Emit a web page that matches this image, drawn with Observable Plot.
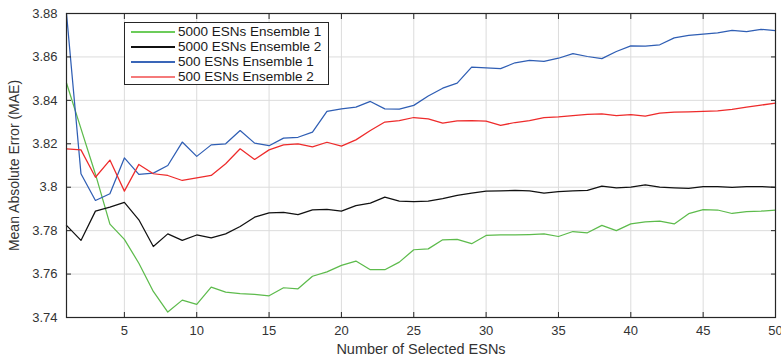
<!DOCTYPE html>
<html>
<head>
<meta charset="utf-8">
<script src="https://cdn.jsdelivr.net/npm/d3@7"></script>
<script src="https://cdn.jsdelivr.net/npm/@observablehq/plot@0.6"></script>
<style>
  html, body { margin: 0; padding: 0; background: #fff; }
  #wrap { position: relative; width: 781px; height: 358px; font-family: "Liberation Sans", Arial, sans-serif; }
  #legend { position: absolute; left: 124px; top: 22px; width: 205px; height: 63px; box-sizing: border-box;
            border: 1px solid #262626; background: #fff; }
  .row { position: absolute; left: 0; height: 15px; width: 100%; }
  .row .sw { position: absolute; left: 6px; width: 44px; top: 7px; height: 1.6px; }
  .row .lb { position: absolute; left: 53px; top: -1px; font-size: 13.5px; line-height: 17px; color: #1a1a1a; white-space: nowrap; }
</style>
</head>
<body>
<div id="wrap"></div>
<script>
const n = d3.range(1, 51);
const xTicks = [5, 10, 15, 20, 25, 30, 35, 40, 45, 50];
const yTicks = [3.74, 3.76, 3.78, 3.80, 3.82, 3.84, 3.86, 3.88];

const seriesNames = ["5000 ESNs Ensemble 1", "5000 ESNs Ensemble 2", "500 ESNs Ensemble 1", "500 ESNs Ensemble 2"];

const green = [3.848,3.827,3.806,3.783,3.776,3.765,3.752,3.7425,3.748,3.746,
  3.754,3.7517,3.751,3.7506,3.750,3.7537,3.7532,3.759,3.761,3.764,
  3.766,3.762,3.762,3.7655,3.7712,3.7716,3.7758,3.776,3.774,3.7778,
  3.778,3.778,3.7782,3.7785,3.7773,3.7796,3.779,3.7824,3.780,3.7831,
  3.784,3.7844,3.7831,3.7878,3.7897,3.7895,3.7879,3.7888,3.789,3.7894];
const black = [3.7824,3.7755,3.789,3.7908,3.793,3.785,3.7727,3.7785,3.7755,3.778,
  3.7767,3.7785,3.7819,3.7862,3.7882,3.7884,3.7874,3.7896,3.7898,3.789,
  3.7915,3.7927,3.7954,3.7936,3.7934,3.7936,3.7947,3.7962,3.7973,3.7982,
  3.7983,3.7985,3.7983,3.7973,3.798,3.7983,3.7985,3.8005,3.7997,3.800,
  3.8011,3.800,3.7997,3.7995,3.8003,3.8003,3.7999,3.8003,3.8003,3.7999];
const blue = [3.880,3.8062,3.7939,3.797,3.8135,3.8059,3.8065,3.810,3.8208,3.8142,
  3.8195,3.820,3.8261,3.8203,3.8191,3.8226,3.823,3.8254,3.8349,3.8361,
  3.8369,3.8395,3.8361,3.836,3.8377,3.842,3.8456,3.8479,3.8553,3.855,
  3.8546,3.8573,3.8584,3.858,3.8594,3.8615,3.8602,3.8592,3.8625,3.8651,
  3.865,3.8656,3.8688,3.8699,3.8705,3.8711,3.8722,3.8717,3.8727,3.8721];
const red = [3.8177,3.8172,3.8046,3.8125,3.7982,3.8105,3.8062,3.8054,3.8031,3.8043,
  3.8054,3.8108,3.8177,3.8128,3.8172,3.8195,3.820,3.8186,3.8207,3.8189,
  3.8218,3.8261,3.830,3.8307,3.8321,3.8315,3.8295,3.8306,3.8307,3.8304,
  3.8285,3.8298,3.8307,3.832,3.8324,3.833,3.8335,3.8338,3.833,3.8334,
  3.8327,3.8341,3.8346,3.8347,3.8349,3.8352,3.8358,3.8369,3.8378,3.8387];

const lineColors = ["#5dbb4c", "#111111", "#2f5eb4", "#ee2b2b"];
const legendColors = ["#6ccc5a", "#111111", "#3a66b8", "#f57a7a"];
const allSeries = [green, black, blue, red];

const fmtY = d => d3.format(".2f")(d).replace(/0$/, "");

const lineMarks = allSeries.map((s, k) =>
  Plot.line(n.map((x, i) => ({x, y: s[i]})), {x: "x", y: "y", stroke: lineColors[k], strokeWidth: 1.25})
);

const chart = Plot.plot({
  width: 781,
  height: 358,
  marginLeft: 66,
  marginRight: 6,
  marginTop: 13,
  marginBottom: 41,
  style: {fontFamily: "'Liberation Sans', Arial, sans-serif", fontSize: "13px", color: "#333", background: "#fff"},
  x: {domain: [1, 50], label: null},
  y: {domain: [3.74, 3.88], label: null},
  marks: [
    Plot.gridX(xTicks, {stroke: "#dcdcdc", strokeOpacity: 1, strokeWidth: 1}),
    Plot.gridY(yTicks, {stroke: "#dcdcdc", strokeOpacity: 1, strokeWidth: 1}),
    ...lineMarks,
    Plot.frame({stroke: "#262626", strokeWidth: 1.2}),
    Plot.axisX(xTicks, {anchor: "bottom", tickSize: -5, tickPadding: 13, tickFormat: d => String(d), stroke: "#262626", label: null}),
    Plot.axisX(xTicks, {anchor: "top", tickSize: -5, tickFormat: () => "", stroke: "#262626", label: null}),
    Plot.axisY(yTicks, {anchor: "left", tickSize: -5, tickPadding: 14, tickFormat: fmtY, stroke: "#262626", label: null}),
    Plot.axisY(yTicks, {anchor: "right", tickSize: -5, tickFormat: () => "", stroke: "#262626", label: null}),
    Plot.text(["Number of Selected ESNs"], {frameAnchor: "bottom", lineAnchor: "middle", textAnchor: "middle", dy: 32, fontSize: 14.5, fill: "#333"}),
    Plot.text(["Mean Absolute Error (MAE)"], {frameAnchor: "left", lineAnchor: "middle", textAnchor: "middle", dx: -52, rotate: -90, fontSize: 14, fill: "#333"})
  ]
});

const wrap = document.getElementById("wrap");
wrap.appendChild(chart);

const legend = document.createElement("div");
legend.id = "legend";
seriesNames.forEach((name, i) => {
  const row = document.createElement("div");
  row.className = "row";
  row.style.top = (1 + 15 * i) + "px";
  const sw = document.createElement("div");
  sw.className = "sw";
  sw.style.background = legendColors[i];
  const lb = document.createElement("div");
  lb.className = "lb";
  lb.textContent = name;
  row.appendChild(sw);
  row.appendChild(lb);
  legend.appendChild(row);
});
wrap.appendChild(legend);
</script>
</body>
</html>
